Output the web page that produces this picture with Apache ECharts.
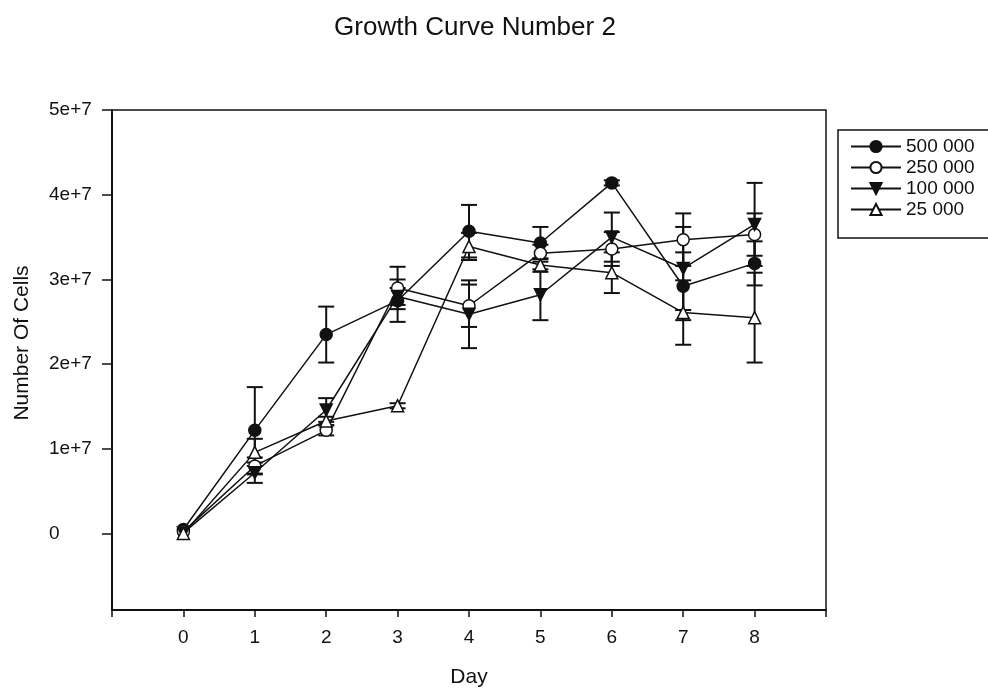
<!DOCTYPE html>
<html>
<head>
<meta charset="utf-8">
<script src="https://cdn.jsdelivr.net/npm/echarts@6/dist/echarts.min.js"></script>
<style>
  html, body { margin: 0; padding: 0; background: #fff; }
  #main { width: 988px; height: 693px; }
</style>
</head>
<body>
<div id="main"></div>
<script>
var days = [0, 1, 2, 3, 4, 5, 6, 7, 8];
var xTicks = [-1, 0, 1, 2, 3, 4, 5, 6, 7, 8, 9];
var yTicks = [0, 1e7, 2e7, 3e7, 4e7, 5e7];
var yTickLabels = ['0', '1e+7', '2e+7', '3e+7', '4e+7', '5e+7'];

// mean cell counts per seeding density
var s500 = [0.05e7, 1.22e7, 2.35e7, 2.75e7, 3.57e7, 3.43e7, 4.14e7, 2.92e7, 3.19e7];
var s250 = [0.025e7, 0.80e7, 1.22e7, 2.90e7, 2.69e7, 3.31e7, 3.36e7, 3.47e7, 3.53e7];
var s100 = [0.01e7, 0.72e7, 1.46e7, 2.80e7, 2.59e7, 2.82e7, 3.50e7, 3.13e7, 3.65e7];
var s25 = [0.0025e7, 0.96e7, 1.33e7, 1.51e7, 3.39e7, 3.17e7, 3.08e7, 2.61e7, 2.55e7];

// error bars (+/-)
var e500 = [0, 0.51e7, 0.33e7, 0.25e7, 0.31e7, 0.19e7, 0.03e7, 0.40e7, 0.26e7];
var e250 = [0, 0.10e7, 0.06e7, 0.25e7, 0.25e7, 0.10e7, 0.20e7, 0.31e7, 0.25e7];
var e100 = [0, 0.12e7, 0.14e7, 0.10e7, 0.40e7, 0.30e7, 0.29e7, 0.49e7, 0.49e7];
var e25 = [0, 0.16e7, 0.05e7, 0.03e7, 0.16e7, 0.08e7, 0.24e7, 0.38e7, 0.53e7];

var names = ['500 000', '250 000', '100 000', '25 000'];

function pairs(vals) {
  return days.map(function (d, i) { return [d, vals[i]]; });
}

function errData(vals, errs) {
  return days.map(function (d, i) { return [d, vals[i] - errs[i], vals[i] + errs[i]]; });
}

function renderErr(params, api) {
  var x = api.value(0);
  var lo = api.value(1);
  var hi = api.value(2);
  if (hi - lo <= 0) return;
  var p1 = api.coord([x, hi]);
  var p2 = api.coord([x, lo]);
  var w = 8;
  var st = { stroke: '#111', lineWidth: 2 };
  return {
    type: 'group',
    children: [
      { type: 'line', shape: { x1: p1[0], y1: p1[1], x2: p2[0], y2: p2[1] }, style: st },
      { type: 'line', shape: { x1: p1[0] - w, y1: p1[1], x2: p1[0] + w, y2: p1[1] }, style: st },
      { type: 'line', shape: { x1: p2[0] - w, y1: p2[1], x2: p2[0] + w, y2: p2[1] }, style: st }
    ]
  };
}

function errSeries(vals, errs) {
  return {
    type: 'custom',
    renderItem: renderErr,
    data: errData(vals, errs),
    encode: { x: 0, y: [1, 2] },
    silent: true,
    z: 1
  };
}

function lineSeries(name, vals, symbol, fill, rotate) {
  return {
    name: name,
    type: 'line',
    data: pairs(vals),
    symbol: symbol,
    symbolSize: 12,
    symbolRotate: rotate || 0,
    showAllSymbol: true,
    lineStyle: { color: '#111', width: 1.5 },
    itemStyle: { color: fill, borderColor: '#111', borderWidth: 1.5 },
    z: 3,
    animation: false
  };
}

var chart = echarts.init(document.getElementById('main'), null, { renderer: 'canvas' });

var option = {
  backgroundColor: '#fff',
  animation: false,
  textStyle: { fontFamily: 'Liberation Sans, Arial, sans-serif', color: '#111' },
  title: {
    text: 'Growth Curve Number 2',
    left: 470,
    top: 10,
    textAlign: 'center',
    textStyle: { fontSize: 26, fontWeight: 'normal', color: '#111', fontFamily: 'Liberation Sans, Arial, sans-serif' }
  },
  legend: {
    orient: 'vertical',
    left: 838,
    top: 130,
    width: 160,
    padding: [7, 40, 19, 12],
    itemGap: 2,
    itemWidth: 50,
    itemHeight: 14,
    borderColor: '#111',
    borderWidth: 1.5,
    textStyle: { fontSize: 19, color: '#111', fontFamily: 'Liberation Sans, Arial, sans-serif' },
    data: names
  },
  grid: {
    left: 112,
    right: 162,
    top: 110,
    bottom: 81,
    show: true,
    borderColor: '#111',
    borderWidth: 1.5
  },
  xAxis: {
    type: 'value',
    min: -1,
    max: 9,
    name: 'Day',
    nameLocation: 'middle',
    nameGap: 57,
    nameTextStyle: { fontSize: 21, color: '#111' },
    axisLine: { show: true, onZero: false, lineStyle: { color: '#111', width: 2 } },
    axisTick: { show: true, length: 7, customValues: xTicks, lineStyle: { color: '#111', width: 1.5 } },
    axisLabel: { customValues: days, fontSize: 19, color: '#111', margin: 18 },
    splitLine: { show: false }
  },
  yAxis: {
    type: 'value',
    min: -0.9e7,
    max: 5e7,
    name: 'Number Of Cells',
    nameLocation: 'middle',
    nameGap: 79,
    nameTextStyle: { fontSize: 21, color: '#111', padding: [0, 0, 0, 34] },
    axisLine: { show: true, onZero: false, lineStyle: { color: '#111', width: 2 } },
    axisTick: { show: true, length: 10, customValues: yTicks, lineStyle: { color: '#111', width: 1.5 } },
    axisLabel: {
      customValues: yTicks,
      fontSize: 19,
      color: '#111',
      align: 'left',
      margin: 63,
      formatter: function (v) {
        var i = yTicks.indexOf(v);
        return i >= 0 ? yTickLabels[i] : '';
      }
    },
    splitLine: { show: false }
  },
  series: [
    errSeries(s500, e500),
    errSeries(s250, e250),
    errSeries(s100, e100),
    errSeries(s25, e25),
    lineSeries(names[0], s500, 'circle', '#111'),
    lineSeries(names[1], s250, 'circle', '#fff'),
    lineSeries(names[2], s100, 'triangle', '#111', 180),
    lineSeries(names[3], s25, 'triangle', '#fff')
  ]
};

chart.setOption(option);
</script>
</body>
</html>
